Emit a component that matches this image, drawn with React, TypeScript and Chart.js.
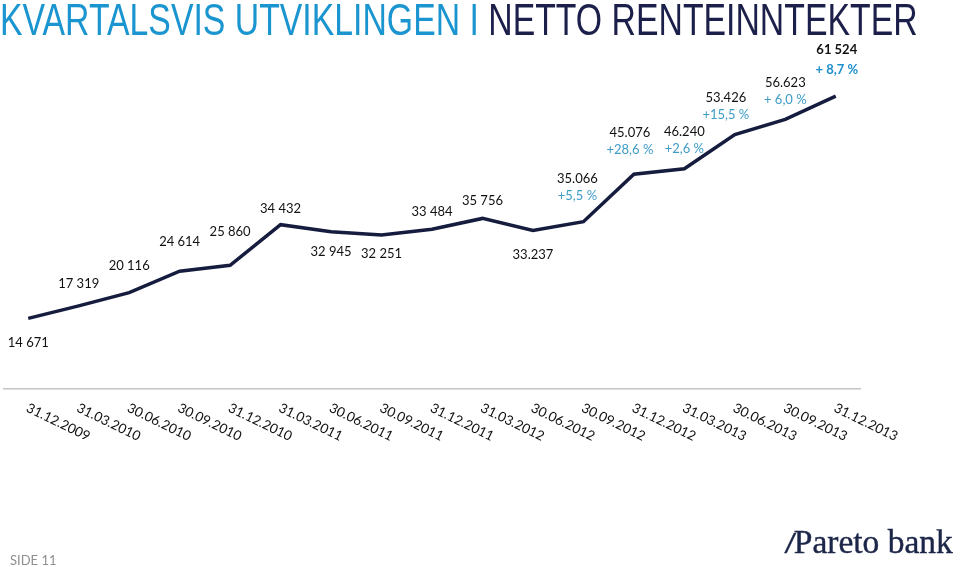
import React, { useEffect, useRef } from "react";
import { Chart, registerables } from "chart.js";

Chart.register(...registerables);

// ---- data ----
const categories: string[] = [
  "31.12.2009", "31.03.2010", "30.06.2010", "30.09.2010", "31.12.2010",
  "31.03.2011", "30.06.2011", "30.09.2011", "31.12.2011", "31.03.2012",
  "30.06.2012", "30.09.2012", "31.12.2012", "31.03.2013", "30.06.2013",
  "30.09.2013", "31.12.2013",
];
const values: number[] = [
  14671, 17319, 20116, 24614, 25860, 34432, 32945, 32251, 33484, 35756,
  33237, 35066, 45076, 46240, 53426, 56623, 61524,
];
const valueLabels: string[] = [
  "14 671", "17 319", "20 116", "24 614", "25 860", "34 432", "32 945", "32 251",
  "33 484", "35 756", "33.237", "35.066", "45.076", "46.240", "53.426", "56.623", "61 524",
];
const changeLabels: string[] = [
  "", "", "", "", "", "", "", "", "", "", "",
  "+5,5 %", "+28,6 %", "+2,6 %", "+15,5 %", "+ 6,0 %", "+ 8,7 %",
];
const yMin = 0;
const yMax = 70000;

// ---- label placement (style, not data): [dx, dyValue, dyChange] relative to point ----
const labelPlacement: [number, number, number][] = [
  [0, 24, 0], [0, -22, 0], [0, -27, 0], [0, -29, 0], [0, -34, 0], [0, -16, 0],
  [0, 20, 0], [0, 19, 0], [0, -17, 0], [0, -18, 0], [0, 24, 0],
  [-6, -43, -26], [-4, -41, -24], [0, -37, -20], [-9, -37, -20], [0, -37, -20], [1, -46, -26],
];

const LINE_COLOR = "#161c3e";
const PCT_COLOR = "#3e9cc6";

const overlayPlugin = {
  id: "overlay",
  afterDatasetsDraw(chart: any) {
    const { ctx, chartArea, scales } = chart;
    const xs = scales.x;
    ctx.save();
    // axis line
    ctx.strokeStyle = "#c4c4c4";
    ctx.lineWidth = 1.5;
    ctx.beginPath();
    ctx.moveTo(chartArea.left, chartArea.bottom + 0.75);
    ctx.lineTo(chartArea.right, chartArea.bottom + 0.75);
    ctx.stroke();

    // rotated category labels
    ctx.fillStyle = "#111";
    ctx.font = "13.5px Lato, 'Open Sans', sans-serif";
    ctx.textAlign = "left";
    ctx.textBaseline = "top";
    categories.forEach((c, i) => {
      const x = xs.getPixelForValue(i);
      ctx.save();
      ctx.translate(x + 2, chartArea.bottom + 13);
      ctx.rotate((26 * Math.PI) / 180);
      ctx.fillText(c, 0, 0);
      ctx.restore();
    });

    // data labels
    const meta = chart.getDatasetMeta(0);
    ctx.textAlign = "center";
    ctx.textBaseline = "middle";
    const last = values.length - 1;
    meta.data.forEach((pt: any, i: number) => {
      const [dx, dyV, dyC] = labelPlacement[i];
      const bold = i === last;
      ctx.font = (bold ? "bold " : "") + "13px Lato, 'Open Sans', sans-serif";
      ctx.fillStyle = "#111";
      ctx.fillText(valueLabels[i], pt.x + dx, pt.y + dyV);
      if (changeLabels[i]) {
        ctx.fillStyle = bold ? "#1f8fcc" : PCT_COLOR;
        ctx.fillText(changeLabels[i], pt.x + dx, pt.y + dyC);
      }
    });
    ctx.restore();
  },
};

function LineChart() {
  const ref = useRef<HTMLCanvasElement | null>(null);
  useEffect(() => {
    if (!ref.current) return;
    const chart = new Chart(ref.current, {
      type: "line",
      data: {
        labels: categories,
        datasets: [
          {
            data: values,
            borderColor: LINE_COLOR,
            borderWidth: 3.5,
            pointRadius: 0,
            tension: 0,
            fill: false,
          },
        ],
      },
      options: {
        responsive: false,
        animation: false,
        devicePixelRatio: 1,
        layout: { padding: { left: 3, right: 99, top: 56, bottom: 179 } },
        scales: {
          x: { display: false, offset: true },
          y: { display: false, min: yMin, max: yMax },
        },
        plugins: { legend: { display: false }, tooltip: { enabled: false } },
      },
      plugins: [overlayPlugin],
    });
    return () => chart.destroy();
  }, []);
  return <canvas ref={ref} width={960} height={567} style={{ position: "absolute", left: 0, top: 0 }} />;
}

export default function App() {
  return (
    <div style={{ position: "absolute", left: 0, top: 0, width: 960, height: 567, background: "#fff", overflow: "hidden" }}>
      <LineChart />
      <div
        style={{
          position: "absolute",
          left: 0,
          top: -2,
          fontFamily: "'Liberation Sans', Arial, sans-serif",
          fontSize: 44,
          lineHeight: "44px",
          whiteSpace: "nowrap",
          transform: "scaleX(0.768)",
          transformOrigin: "0 0",
          letterSpacing: 0,
        }}
      >
        <span style={{ color: "#1b95d0" }}>KVARTALSVIS UTVIKLINGEN I </span>
        <span style={{ color: "#1c1f4a" }}>NETTO RENTEINNTEKTER</span>
      </div>
      <div
        style={{
          position: "absolute",
          left: 10,
          top: 552,
          fontFamily: "Lato, 'Open Sans', sans-serif",
          fontSize: 13,
          lineHeight: "16px",
          color: "#8f8f8f",
        }}
      >
        SIDE 11
      </div>
      <div
        style={{
          position: "absolute",
          left: 786,
          top: 524,
          fontFamily: "'Liberation Serif', serif",
          fontSize: 33.5,
          lineHeight: "36px",
          color: "#1c2648",
          whiteSpace: "nowrap",
          fontWeight: 500,
          WebkitTextStroke: "0.4px #1c2648",
        }}
      >
        <span style={{ fontStyle: "italic", fontFamily: "'Liberation Sans', sans-serif", fontSize: 28 }}>/</span>Pareto bank
      </div>
    </div>
  );
}
